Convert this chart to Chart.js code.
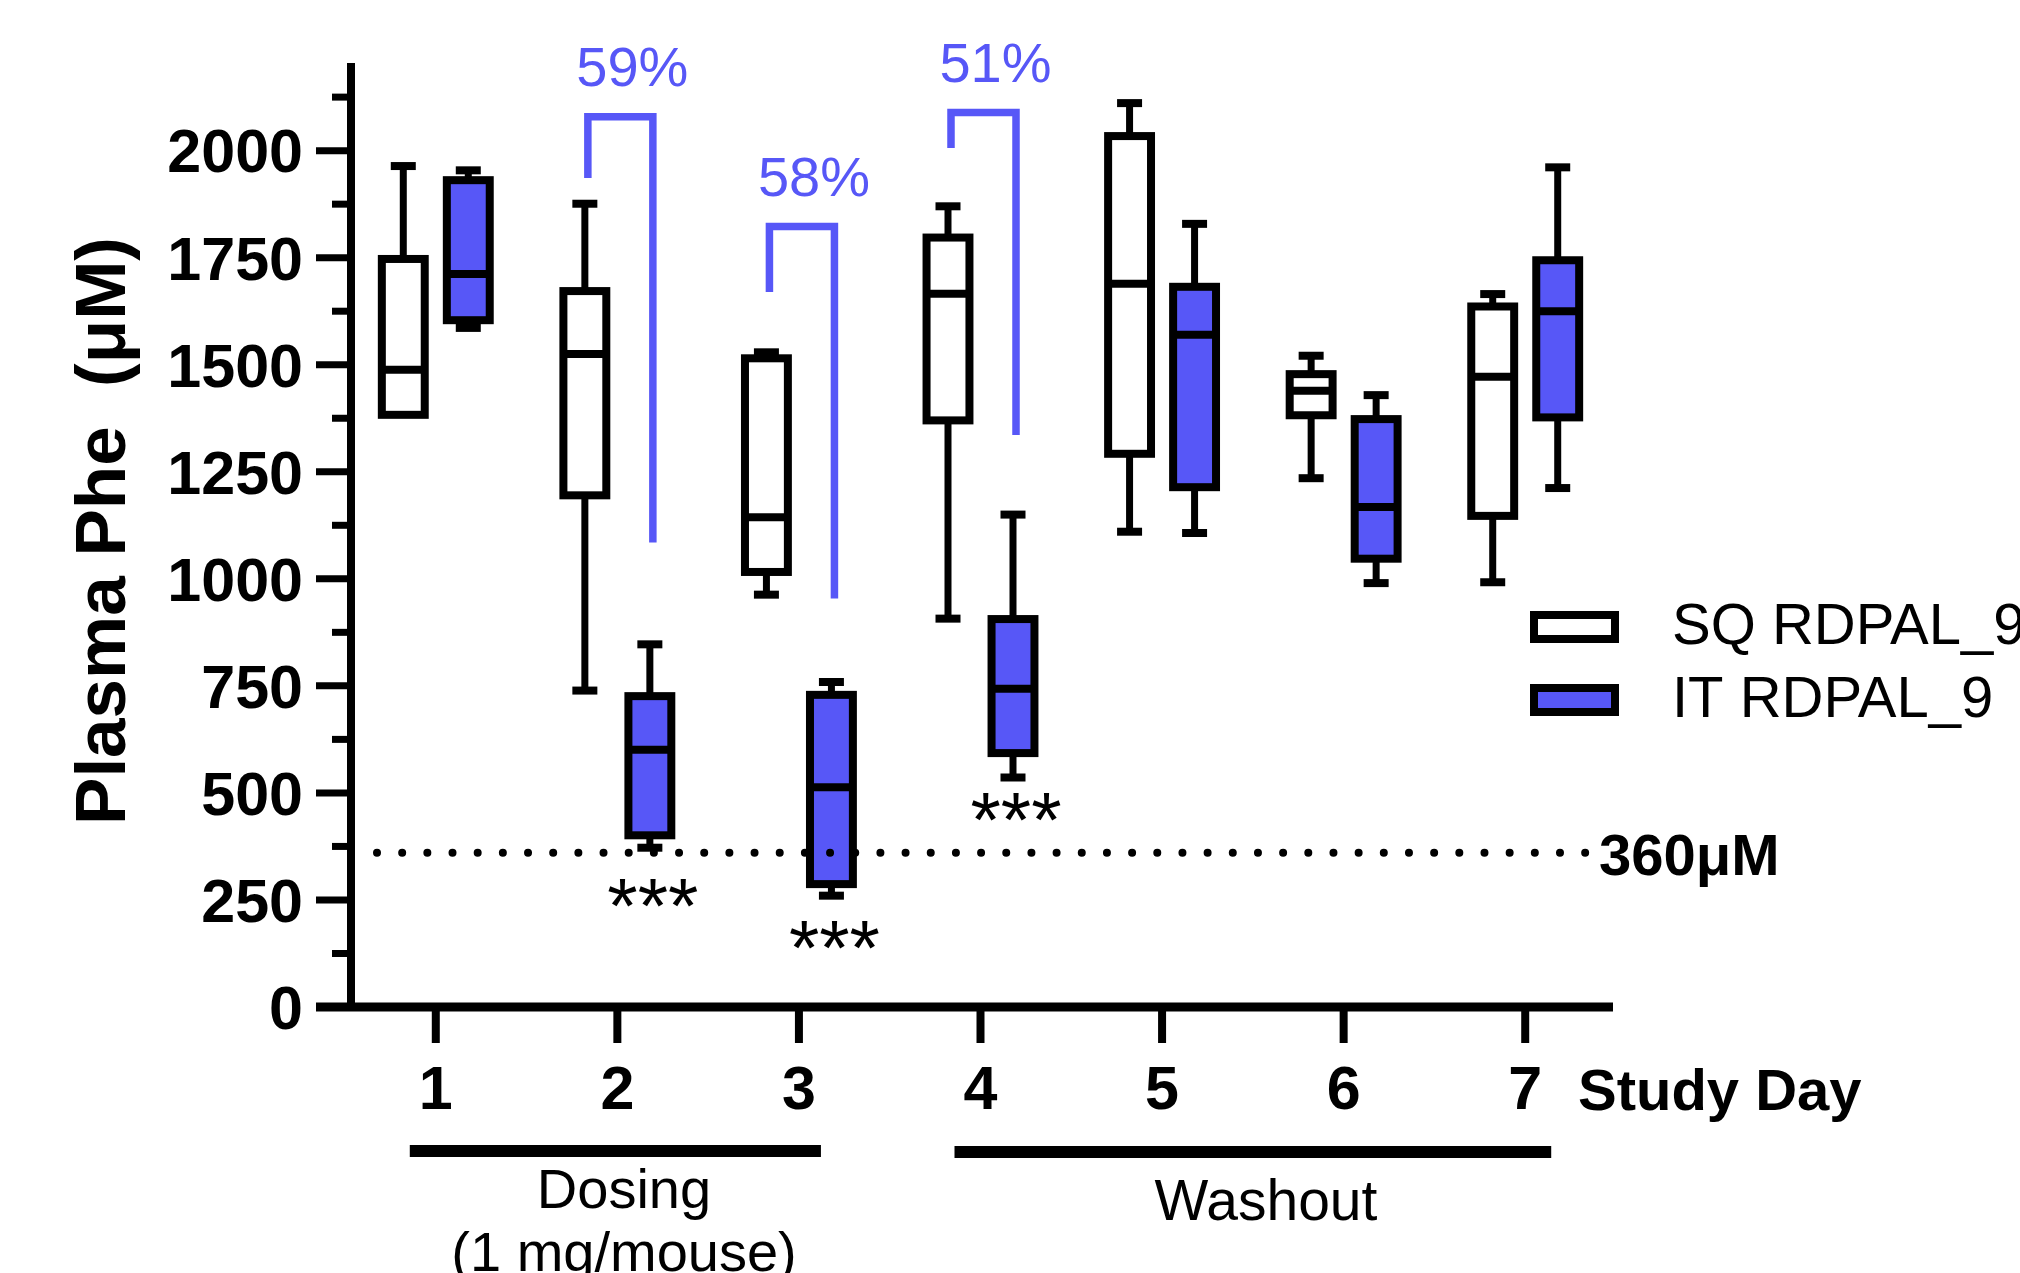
<!DOCTYPE html>
<html lang="en">
<head>
<meta charset="utf-8">
<title>Plasma Phe by study day</title>
<script src="https://cdn.jsdelivr.net/npm/chart.js@4.4.1/dist/chart.umd.min.js"></script>
<style>
    html, body { margin: 0; padding: 0; background: #ffffff; overflow: hidden; }
    #box { width: 2020px; height: 1273px; }
</style>
</head>
<body>
<div id="box"><canvas id="pheChart" width="2020" height="1273"></canvas></div>
<script>
const days = ['1', '2', '3', '4', '5', '6', '7'];
const yTicks = [0, 250, 500, 750, 1000, 1250, 1500, 1750, 2000];

// SQ RDPAL_9 (open boxes)
const sqMin = [1383, 739, 963, 907, 1110, 1235, 992];
const sqQ1  = [1383, 1195, 1016, 1370, 1292, 1382, 1147];
const sqMed = [1488, 1525, 1144, 1666, 1689, 1439, 1472];
const sqQ3  = [1747, 1672, 1515, 1797, 2034, 1478, 1636];
const sqMax = [1964, 1876, 1529, 1870, 2111, 1521, 1665];

// IT RDPAL_9 (filled boxes)
const itMin = [1586, 372, 260, 536, 1107, 990, 1212];
const itQ1  = [1604, 401, 287, 593, 1214, 1047, 1377];
const itMed = [1712, 601, 513, 743, 1570, 1168, 1625];
const itQ3  = [1931, 726, 729, 906, 1682, 1373, 1744];
const itMax = [1954, 847, 759, 1150, 1829, 1429, 1961];

// % reduction brackets on dosing days (category index)
const bracketDay = [1, 2, 3];
const bracketTop = [2079, 1823, 2089];
const bracketLeftEnd = [1936, 1670, 2006];
const bracketRightEnd = [1085, 954, 1336];
const bracketText = ['59%', '58%', '51%'];

// significance stars under IT boxes
const starDay = [1, 2, 3];
const starValue = [278, 180, 479];

const targetPhe = 360;

const BLUE = '#5757f7';
const FONT = '"Liberation Sans", Arial, sans-serif';

Chart.defaults.font.family = FONT;
Chart.defaults.color = '#000';

function seg(ctx, x1, y1, x2, y2) {
    ctx.beginPath();
    ctx.moveTo(x1, y1);
    ctx.lineTo(x2, y2);
    ctx.stroke();
}

// whiskers, medians and box outlines on top of the floating bars
const boxWhiskers = {
    id: 'boxWhiskers',
    afterDatasetsDraw(chart) {
        const ctx = chart.ctx;
        const y = chart.scales.y;
        const groups = [
            { min: sqMin, q1: sqQ1, med: sqMed, q3: sqQ3, max: sqMax },
            { min: itMin, q1: itQ1, med: itMed, q3: itQ3, max: itMax }
        ];
        ctx.save();
        ctx.strokeStyle = '#000';
        ctx.lineCap = 'butt';
        groups.forEach((g, i) => {
            chart.getDatasetMeta(i).data.forEach((bar, j) => {
                const x = bar.x, half = bar.width / 2;
                const pMin = y.getPixelForValue(g.min[j]);
                const pQ1 = y.getPixelForValue(g.q1[j]);
                const pMed = y.getPixelForValue(g.med[j]);
                const pQ3 = y.getPixelForValue(g.q3[j]);
                const pMax = y.getPixelForValue(g.max[j]);
                if (g.max[j] > g.q3[j]) {
                    ctx.lineWidth = 7;
                    seg(ctx, x, pQ3, x, pMax);
                    ctx.lineWidth = 8;
                    seg(ctx, x - 12.5, pMax, x + 12.5, pMax);
                }
                if (g.min[j] < g.q1[j]) {
                    ctx.lineWidth = 7;
                    seg(ctx, x, pQ1, x, pMin);
                    ctx.lineWidth = 8;
                    seg(ctx, x - 12.5, pMin, x + 12.5, pMin);
                }
                ctx.lineWidth = 8;
                ctx.strokeRect(x - half, pQ3, half * 2, pQ1 - pQ3);
                seg(ctx, x - half, pMed, x + half, pMed);
            });
        });
        ctx.restore();
    }
};

// axes lines, tick marks, reference line, brackets, legend and notes
const extras = {
    id: 'extras',
    afterDraw(chart) {
        const { ctx, chartArea: a, scales: { x, y } } = chart;
        ctx.save();
        ctx.strokeStyle = '#000';
        ctx.fillStyle = '#000';

        // y axis + ticks
        const axX = a.left + 6;
        ctx.lineWidth = 8;
        seg(ctx, axX, a.top - 2, axX, a.bottom);
        ctx.lineWidth = 7;
        y.ticks.forEach(t => {
            if (t.value === 0) return;
            const py = y.getPixelForValue(t.value);
            seg(ctx, axX - 35, py, axX, py);
        });
        for (let v = 125; v < y.max; v += 250) {
            const py = y.getPixelForValue(v);
            seg(ctx, axX - 19, py, axX, py);
        }

        // x axis + ticks
        ctx.lineWidth = 9;
        seg(ctx, a.left - 29, a.bottom, a.right - 3, a.bottom);
        ctx.lineWidth = 8;
        days.forEach((d, i) => {
            const px = x.getPixelForValue(i);
            seg(ctx, px, a.bottom, px, a.bottom + 36);
        });

        // 360 uM dotted line
        const p360 = y.getPixelForValue(targetPhe);
        ctx.save();
        ctx.lineWidth = 8;
        ctx.lineCap = 'round';
        ctx.setLineDash([0, 25.17]);
        seg(ctx, a.left + 32, p360, a.right - 30, p360);
        ctx.restore();
        ctx.font = 'bold 58px ' + FONT;
        ctx.textAlign = 'left';
        ctx.textBaseline = 'alphabetic';
        ctx.fillText(targetPhe + 'μM', a.right - 17, p360 + 22);

        // axis titles
        ctx.fillText('Study Day', 1578, 1110);
        ctx.save();
        ctx.translate(125, 531);
        ctx.rotate(-Math.PI / 2);
        ctx.textAlign = 'center';
        ctx.font = 'bold 71px ' + FONT;
        ctx.fillText('Plasma Phe  (μM)', 0, 0);
        ctx.restore();

        // brackets with % reduction
        const sq = chart.getDatasetMeta(0).data;
        const it = chart.getDatasetMeta(1).data;
        ctx.strokeStyle = BLUE;
        ctx.fillStyle = BLUE;
        ctx.lineWidth = 7.5;
        ctx.lineJoin = 'miter';
        ctx.font = '56px ' + FONT;
        ctx.textAlign = 'center';
        ctx.textBaseline = 'middle';
        bracketDay.forEach((d, k) => {
            const xl = sq[d].x + 3, xr = it[d].x + 3;
            const top = y.getPixelForValue(bracketTop[k]);
            ctx.beginPath();
            ctx.moveTo(xl, y.getPixelForValue(bracketLeftEnd[k]));
            ctx.lineTo(xl, top);
            ctx.lineTo(xr, top);
            ctx.lineTo(xr, y.getPixelForValue(bracketRightEnd[k]));
            ctx.stroke();
            ctx.fillText(bracketText[k], (xl + xr) / 2 + 12, top - 46);
        });

        // stars
        ctx.fillStyle = '#000';
        ctx.font = '78px ' + FONT;
        ctx.textBaseline = 'alphabetic';
        starDay.forEach((d, k) => {
            ctx.fillText('***', it[d].x + 3, y.getPixelForValue(starValue[k]) + 45);
        });

        // legend
        ctx.strokeStyle = '#000';
        ctx.lineWidth = 8;
        ctx.font = '58px ' + FONT;
        ctx.textAlign = 'left';
        ctx.textBaseline = 'middle';
        const legY = [627, 700];
        chart.data.datasets.forEach((ds, i) => {
            ctx.fillStyle = ds.backgroundColor;
            ctx.fillRect(1534, legY[i] - 12, 81, 24);
            ctx.strokeRect(1534, legY[i] - 12, 81, 24);
            ctx.fillStyle = '#000';
            ctx.fillText(ds.label, 1672, legY[i] + 1);
        });

        // dosing / washout phases
        ctx.lineWidth = 12;
        ctx.lineCap = 'butt';
        seg(ctx, x.getPixelForValue(0) - 26, 1151, x.getPixelForValue(2) + 22, 1151);
        seg(ctx, x.getPixelForValue(3) - 26, 1152, x.getPixelForValue(6) + 26, 1152);
        ctx.textAlign = 'center';
        ctx.textBaseline = 'alphabetic';
        ctx.font = '56px ' + FONT;
        ctx.fillText('Dosing', 624, 1208);
        ctx.fillText('(1 mg/mouse)', 624, 1271);
        ctx.font = '57px ' + FONT;
        ctx.fillText('Washout', 1266, 1220);

        ctx.restore();
    }
};

new Chart(document.getElementById('pheChart'), {
    type: 'bar',
    data: {
        labels: days,
        datasets: [
            {
                label: 'SQ RDPAL_9',
                data: days.map((d, i) => [sqQ1[i], sqQ3[i]]),
                backgroundColor: '#ffffff',
                borderWidth: 0
            },
            {
                label: 'IT RDPAL_9',
                data: days.map((d, i) => [itQ1[i], itQ3[i]]),
                backgroundColor: BLUE,
                borderWidth: 0
            }
        ]
    },
    options: {
        responsive: false,
        devicePixelRatio: 1,
        animation: false,
        categoryPercentage: 0.716,
        barPercentage: 0.66,
        layout: { padding: { left: 0, top: 65, right: 404, bottom: 0 } },
        plugins: {
            legend: { display: false },
            tooltip: { enabled: false }
        },
        scales: {
            x: {
                grid: { display: false, drawTicks: false },
                border: { display: false },
                ticks: {
                    font: { size: 61, weight: 'bold' },
                    padding: 49,
                    maxRotation: 0,
                    autoSkip: false
                },
                afterFit: s => { s.height = 266; s.paddingLeft = 0; s.paddingRight = 0; }
            },
            y: {
                min: 0,
                max: 2200,
                grid: { display: false, drawTicks: false },
                border: { display: false },
                afterBuildTicks: s => { s.ticks = yTicks.map(v => ({ value: v })); },
                ticks: {
                    autoSkip: false,
                    font: { size: 61, weight: 'bold' },
                    padding: 42,
                    labelOffset: 5,
                    callback: v => String(v)
                },
                afterFit: s => { s.width = 345; s.paddingTop = 0; s.paddingBottom = 0; }
            }
        }
    },
    plugins: [boxWhiskers, extras]
});
</script>
</body>
</html>
